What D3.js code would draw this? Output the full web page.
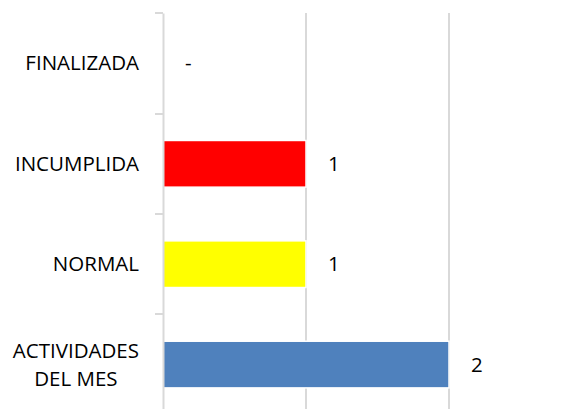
<!DOCTYPE html>
<html>
<head>
<meta charset="utf-8">
<script src="https://cdn.jsdelivr.net/npm/d3@7"></script>
<style>
  body { margin: 0; background: #fff; }
  text { font-family: "Open Sans", "Noto Sans", sans-serif; fill: #000; }
</style>
</head>
<body>
<script>
// categories top to bottom, as shown
const categories = ["FINALIZADA", "INCUMPLIDA", "NORMAL", "ACTIVIDADES DEL MES"];
const values = [0, 1, 1, 2];
const valueLabels = ["-", "1", "1", "2"];
const barColors = ["#4f81bd", "#ff0000", "#ffff00", "#4f81bd"];
const xTicks = [0, 1, 2];

const w = 585, h = 409;
const mLeft = 163, mRight = 449, mTop = 13, mBottom = 415;
const fs = 20.5;
const labelRight = 139;

const svg = d3.select("body").append("svg")
    .attr("width", w)
    .attr("height", h);

const x = d3.scaleLinear().domain([0, 2]).range([mLeft, mRight]);
const y = d3.scaleBand()
    .domain(categories)
    .range([mTop, mBottom])
    .paddingInner(0.535)
    .paddingOuter(0.27);

// gridlines
svg.selectAll(".grid")
    .data(xTicks.slice(1))
    .enter()
    .append("line")
    .attr("x1", d => x(d)).attr("x2", d => x(d))
    .attr("y1", mTop).attr("y2", mBottom)
    .attr("stroke", "#d9d9d9")
    .attr("stroke-width", 2);

// bars (white edge cuts the gridlines like the original)
svg.selectAll(".bar")
    .data(categories)
    .enter()
    .append("rect")
    .attr("x", x(0))
    .attr("y", d => y(d))
    .attr("width", (d, i) => x(values[i]) - x(0))
    .attr("height", y.bandwidth())
    .attr("fill", (d, i) => barColors[i])
    .attr("stroke", "#fff")
    .attr("stroke-width", (d, i) => values[i] > 0 ? 1.5 : 0);

// category axis
const axisY = d3.axisLeft(y).tickSize(0).tickFormat("");
const ax = svg.append("g").attr("transform", `translate(${mLeft},0)`).call(axisY);
ax.select(".domain").attr("stroke", "#d9d9d9").attr("stroke-width", 2);

// tick marks at band boundaries
const edges = [mTop].concat(categories.map(c => y(c) + y.bandwidth() + y.step() * y.paddingInner() / 2));
svg.selectAll(".tk")
    .data(edges)
    .enter()
    .append("line")
    .attr("x1", mLeft - 8).attr("x2", mLeft)
    .attr("y1", d => Math.round(d)).attr("y2", d => Math.round(d))
    .attr("stroke", "#d9d9d9")
    .attr("stroke-width", 2);

// category labels (wrapped lines are centred on each other, block right aligned)
svg.selectAll(".cat")
    .data(categories)
    .enter()
    .append("text")
    .attr("font-size", fs)
    .each(function (d) {
        const lines = d === "ACTIVIDADES DEL MES" ? ["ACTIVIDADES", "DEL MES"] : [d];
        const cy = y(d) + y.bandwidth() / 2;
        const t = d3.select(this);
        const spans = lines.map((ln, k) => t.append("tspan")
            .attr("y", cy + 7 + (k - (lines.length - 1) / 2) * 28)
            .text(ln));
        const widest = d3.max(spans, s => s.node().getComputedTextLength());
        t.attr("text-anchor", "middle");
        spans.forEach(s => s.attr("x", labelRight - widest / 2));
    });

// value labels
svg.selectAll(".val")
    .data(categories)
    .enter()
    .append("text")
    .attr("font-size", fs)
    .attr("x", (d, i) => x(values[i]) + 22)
    .attr("y", d => y(d) + y.bandwidth() / 2 + 7)
    .text((d, i) => valueLabels[i]);
</script>
</body>
</html>
